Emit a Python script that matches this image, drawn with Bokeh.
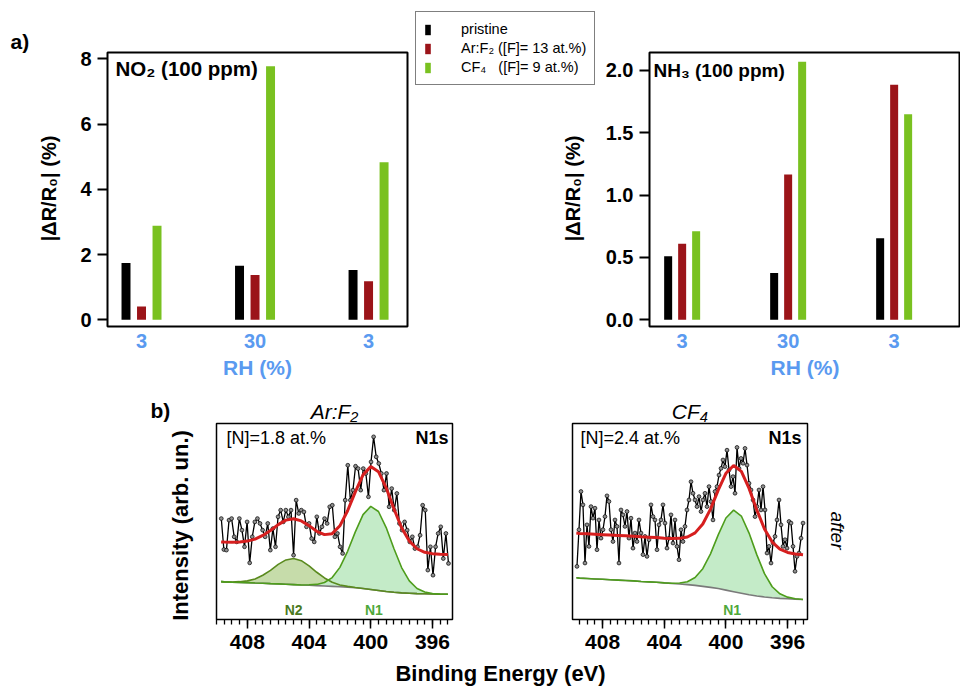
import math
import numpy as np
from bokeh.plotting import figure
from bokeh.models import (Range1d, FixedTicker, Label, Legend, LegendItem,
                          SingleIntervalTicker, PrintfTickFormatter)
from bokeh.layouts import column, row
from bokeh.embed import file_html
from bokeh.resources import INLINE

FONT = "Liberation Sans"
BLUE = "#5a9af0"
C_PRI = "#000000"
C_ARF = "#9b1419"
C_CF4 = "#79c120"

# ---------------- data: gas response bars ----------------
rh_labels = ["3", "30", "3"]
groups = [0, 1, 2]
no2_pristine = [1.74, 1.66, 1.53]
no2_arf2 = [0.41, 1.37, 1.18]
no2_cf4 = [2.88, 7.77, 4.83]
nh3_pristine = [0.51, 0.375, 0.655]
nh3_arf2 = [0.61, 1.165, 1.885]
nh3_cf4 = [0.71, 2.07, 1.65]
legend_labels = ["pristine", "Ar:F\u2082 ([F]= 13 at.%)", "CF\u2084   ([F]= 9 at.%)"]

# ---------------- data: XPS N1s (after) ----------------
arf2_counts = [51.5, 35.7, 35.4, 50.7, 51.5, 42.2, 39.6, 51.5, 45.6, 37.1,
               49.8, 28.9, 42.2, 49.8, 51.5, 49.0, 45.6, 42.2, 49.0, 35.4,
               46.4, 37.1, 52.4, 55.8, 49.8, 55.8, 52.4, 55.8, 32.8, 60.9,
               54.1, 55.8, 54.9, 47.3, 49.0, 41.3, 39.6, 52.4, 43.9, 47.3,
               51.5, 49.0, 57.5, 58.3, 42.2, 43.9, 37.1, 33.7, 60.9, 78.7,
               60.9, 66.0, 78.2, 77.0, 66.0, 77.0, 74.5, 62.6, 80.4, 93.2,
               83.0, 79.6, 74.5, 66.0, 74.5, 57.5, 66.8, 55.8, 64.3, 49.0,
               45.6, 49.8, 45.6, 39.6, 42.2, 36.2, 37.1, 43.0, 58.3, 55.8,
               25.2, 37.1, 22.6, 37.1, 43.9, 47.3, 31.1, 43.9, 28.6]
arf2_ev_start, arf2_ev_end = 409.69, 394.96

cf4_counts = [27.1, 45.8, 65.3, 58.5, 28.8, 48.3, 37.3, 57.6, 51.7, 56.8,
              35.6, 50.8, 41.5, 45.8, 52.5, 63.1, 60.2, 45.8, 39.8, 50.8,
              47.5, 28.8, 55.9, 53.4, 47.5, 55.1, 41.5, 51.7, 36.4, 44.1,
              39.8, 50.8, 44.1, 33.1, 42.4, 32.2, 40.7, 58.5, 52.5, 50.8,
              35.6, 48.3, 50.8, 58.5, 49.2, 36.4, 41.5, 53.4, 39.0, 50.8,
              37.3, 30.5, 45.8, 39.8, 47.5, 55.9, 61.0, 70.3, 64.4, 61.0,
              57.6, 62.7, 55.1, 61.0, 64.4, 57.6, 67.8, 60.2, 50.8, 65.3,
              67.8, 73.7, 77.1, 81.4, 78.0, 86.4, 76.3, 67.8, 72.9, 64.4,
              87.8, 77.1, 82.2, 79.7, 87.3, 78.8, 69.5, 66.1, 61.0, 52.5,
              57.6, 66.1, 55.9, 67.8, 55.9, 33.9, 37.3, 28.8, 39.0, 42.4,
              50.8, 61.0, 48.3, 37.3, 40.7, 36.4, 50.0, 49.2, 37.3, 24.6,
              32.2, 33.9, 41.5, 49.2]
cf4_ev_start, cf4_ev_end = 409.66, 395.0

fit_ev = [409.7, 409.5, 409.0, 408.5, 408.0, 407.5, 407.0, 406.5, 406.0, 405.5,
          405.0, 404.5, 404.0, 403.5, 403.0, 402.5, 402.0, 401.5, 401.0, 400.5,
          400.0, 399.5, 399.0, 398.5, 398.0, 397.5, 397.0, 396.5, 396.0, 395.5, 395.0]

arf2_bg = [19.3, 19.2, 19.0, 18.9, 18.8, 18.6, 18.5, 18.3, 18.2, 18.0,
           17.8, 17.6, 17.5, 17.3, 17.1, 16.9, 16.7, 16.5, 16.2, 15.8,
           15.3, 14.8, 14.3, 13.9, 13.6, 13.4, 13.2, 13.1, 13.0, 12.9, 12.9]
arf2_n2 = [19.3, 19.2, 19.1, 19.3, 19.7, 20.7, 22.6, 25.1, 28.1, 30.4,
           31.1, 30.0, 27.4, 24.1, 21.2, 19.0, 17.6, 16.9, 16.3, 15.8,
           15.3, 14.8, 14.3, 13.9, 13.6, 13.4, 13.2, 13.1, 13.0, 12.9, 12.9]
arf2_n1 = [19.3, 19.2, 19.0, 18.9, 18.8, 18.6, 18.5, 18.3, 18.2, 18.0,
           17.8, 17.6, 17.7, 17.9, 18.9, 21.4, 26.6, 34.8, 44.7, 53.5,
           57.7, 55.1, 46.9, 36.2, 26.5, 19.7, 15.8, 14.0, 13.3, 13.0, 12.9]
arf2_fit = [39.6, 39.5, 39.4, 39.6, 40.0, 41.0, 42.9, 45.4, 48.4, 50.7,
            51.4, 50.3, 47.9, 45.0, 43.3, 43.8, 47.8, 55.5, 65.1, 73.8,
            78.0, 75.4, 67.2, 56.5, 46.8, 40.0, 36.1, 34.3, 33.6, 33.3, 33.2]

cf4_bg = [21.3, 21.1, 20.9, 20.7, 20.5, 20.3, 20.1, 19.9, 19.7, 19.4,
          19.2, 19.0, 18.7, 18.4, 18.1, 17.8, 17.4, 16.9, 16.4, 15.8,
          15.0, 14.2, 13.4, 12.6, 12.0, 11.5, 11.1, 10.8, 10.6, 10.4, 10.2]
cf4_n1 = [21.3, 21.1, 20.9, 20.7, 20.5, 20.3, 20.1, 19.9, 19.7, 19.4,
          19.2, 19.0, 18.7, 18.5, 18.6, 19.3, 21.4, 25.9, 33.5, 43.2,
          51.8, 55.8, 52.8, 44.1, 33.1, 23.4, 16.7, 13.1, 11.4, 10.6, 10.2]
cf4_fit = [44.1, 43.9, 43.7, 43.5, 43.3, 43.1, 42.9, 42.7, 42.5, 42.2,
           42.0, 41.8, 41.5, 41.3, 41.4, 42.1, 44.2, 48.7, 56.3, 66.0,
           74.6, 78.6, 75.6, 66.9, 55.9, 46.2, 39.5, 35.9, 34.2, 33.4, 33.0]

xps_tick_interval = 4

TOP_H = 384
BOT_H = 275
TXT_H = 28


def lbl(p, text, x, y, size, bold=False, italic=False, color="black",
        align="left", baseline="middle", angle=0.0, units="screen"):
    style = "normal"
    if bold:
        style = "bold"
    elif italic:
        style = "italic"
    p.add_layout(Label(x=x, y=y, x_units=units, y_units=units, text=text,
                       text_font=FONT, text_font_size=size, text_font_style=style,
                       text_color=color, text_align=align, text_baseline=baseline,
                       angle=angle))


def blank(width, height):
    p = figure(width=width, height=height, x_range=Range1d(0, 1), y_range=Range1d(0, 1),
               output_backend="svg", toolbar_location=None, x_axis_type=None, y_axis_type=None,
               min_border_left=0, min_border_right=0, min_border_top=0, min_border_bottom=0)
    try:
        p.frame_align = False
    except Exception:
        pass
    p.xgrid.visible = False
    p.ygrid.visible = False
    p.outline_line_color = None
    return p


def style_bar(p, yticks, fmt):
    p.xgrid.visible = False
    p.ygrid.visible = False
    p.outline_line_color = "black"
    p.outline_line_width = 2
    ya = p.yaxis[0]
    ya.ticker = FixedTicker(ticks=yticks)
    if fmt:
        ya.formatter = PrintfTickFormatter(format=fmt)
    ya.axis_line_color = None
    ya.major_tick_out = 10
    ya.major_tick_in = 0
    ya.major_tick_line_width = 2
    ya.minor_tick_line_color = None
    ya.major_label_text_font = FONT
    ya.major_label_text_font_size = "20px"
    ya.major_label_text_font_style = "bold"
    ya.major_label_text_color = "black"
    ya.major_label_standoff = 6
    xa = p.xaxis[0]
    xa.ticker = FixedTicker(ticks=groups)
    xa.major_label_overrides = {g: t for g, t in zip(groups, rh_labels)}
    xa.axis_line_color = None
    xa.major_tick_line_color = None
    xa.major_tick_out = 0
    xa.major_tick_in = 0
    xa.minor_tick_line_color = None
    xa.major_label_text_font = FONT
    xa.major_label_text_font_size = "20px"
    xa.major_label_text_font_style = "bold"
    xa.major_label_text_color = BLUE
    xa.major_label_standoff = 7
    xa.axis_label = "RH (%)"
    xa.axis_label_text_font = FONT
    xa.axis_label_text_font_size = "21px"
    xa.axis_label_text_font_style = "bold"
    xa.axis_label_text_color = BLUE
    xa.axis_label_standoff = 5


def bars(p, vals_list, off, w):
    rs = []
    for k, (vals, col) in enumerate(zip(vals_list, [C_PRI, C_ARF, C_CF4])):
        xs = [g + (k - 1) * off for g in groups]
        rs.append(p.vbar(x=xs, top=vals, bottom=0, width=w, fill_color=col, line_color=None))
    return rs


YLAB = "|\u0394R/R\u2080| (%)"

# ---------------- row a ----------------
la = blank(70, TOP_H)
lbl(la, "a)", 10, TOP_H - 41, "21px", bold=True)
lbl(la, YLAB, 48, TOP_H - 188, "20px", bold=True, align="center", angle=math.pi / 2)

pa = figure(width=340, height=TOP_H, x_range=Range1d(-0.2996, 2.343), y_range=Range1d(-0.205, 8.193),
            output_backend="svg", toolbar_location=None,
            min_border_left=37, min_border_right=3, min_border_top=52, min_border_bottom=58)
style_bar(pa, [0, 2, 4, 6, 8], None)
bars(pa, [no2_pristine, no2_arf2, no2_cf4], 0.1366, 0.079)
lbl(pa, "NO\u2082 (100 ppm)", 8, 258, "20.5px", bold=True)

# legend panel (legend swatches come from hidden copies of the NH3 bars)
lb = blank(186, TOP_H)
leg_r = []
for vals, c in zip([nh3_pristine, nh3_arf2, nh3_cf4], [C_PRI, C_ARF, C_CF4]):
    r = lb.vbar(x=groups, top=vals, width=0.1, fill_color=c, line_color=None)
    r.visible = False
    leg_r.append(r)
leg = Legend(items=[LegendItem(label=t, renderers=[r]) for t, r in zip(legend_labels, leg_r)],
             location=(5, TOP_H - 85), orientation="vertical",
             border_line_color="black", border_line_width=1.5,
             background_fill_color="white", background_fill_alpha=1.0,
             inactive_fill_alpha=0.0,
             label_text_font=FONT, label_text_font_size="14.5px", label_text_color="black",
             glyph_width=7, glyph_height=13, label_standoff=30, label_height=18,
             spacing=1, padding=8, margin=0)
lb.add_layout(leg)
lbl(lb, YLAB, 162, TOP_H - 188, "20px", bold=True, align="center", angle=math.pi / 2)

pb = figure(width=364, height=TOP_H, x_range=Range1d(-0.308, 2.626), y_range=Range1d(-0.0538, 2.1444),
            output_backend="svg", toolbar_location=None,
            min_border_left=53, min_border_right=0, min_border_top=52, min_border_bottom=58)
style_bar(pb, [0, 0.5, 1.0, 1.5, 2.0], "%.1f")
bars(pb, [nh3_pristine, nh3_arf2, nh3_cf4], 0.132, 0.0755)
lbl(pb, "NH\u2083 (100 ppm)", 4, 256, "19px", bold=True)


# ---------------- row b, XPS ----------------
def xps_fig(width, left, right, xr_start, xr_end, title):
    p = figure(width=width, height=BOT_H, x_range=Range1d(xr_start, xr_end), y_range=Range1d(0, 100),
               output_backend="svg", toolbar_location=None, y_axis_type=None,
               min_border_left=left, min_border_right=right, min_border_top=39, min_border_bottom=40)
    p.title.text = title
    p.title.align = "center"
    p.title.text_font = FONT
    p.title.text_font_size = "21px"
    p.title.text_font_style = "italic"
    p.title.text_color = "black"
    p.title.standoff = 1
    p.xgrid.visible = False
    p.ygrid.visible = False
    p.outline_line_color = "black"
    p.outline_line_width = 1.5
    xa = p.xaxis[0]
    xa.ticker = SingleIntervalTicker(interval=xps_tick_interval, num_minor_ticks=8)
    xa.axis_line_color = None
    xa.major_tick_out = 9
    xa.major_tick_in = 0
    xa.minor_tick_out = 5
    xa.minor_tick_in = 0
    xa.major_tick_line_width = 1.5
    xa.minor_tick_line_width = 1.3
    xa.major_label_text_font = FONT
    xa.major_label_text_font_size = "21px"
    xa.major_label_text_font_style = "bold"
    xa.major_label_text_color = "black"
    xa.major_label_standoff = 6
    return p


def draw_xps(p, counts, ev_start, ev_end, bg, comps, fit):
    ev = np.linspace(ev_start, ev_end, len(counts))
    for yc, fill, edge in comps:
        p.varea(x=fit_ev, y1=bg, y2=yc, fill_color=fill, fill_alpha=1.0)
    p.line(fit_ev, bg, line_color="#7a7a7a", line_width=1.6)
    for yc, fill, edge in comps:
        p.line(fit_ev, yc, line_color=edge, line_width=1.6)
    p.line(ev, counts, line_color="black", line_width=1.3)
    p.scatter(ev, counts, size=3.8, fill_color="#8f8f8f", line_color="black", line_width=0.7)
    p.line(fit_ev, fit, line_color="#d61f1f", line_width=3)


lf = blank(200, BOT_H)
lbl(lf, "b)", 150, BOT_H - 26, "21px", bold=True)
lbl(lf, "Intensity (arb. un.)", 180, BOT_H - 141, "22px", bold=True, align="center", angle=math.pi / 2)

p1 = xps_fig(310, 16, 58, 410.0, 394.70, "Ar:F\u2082")
draw_xps(p1, arf2_counts, arf2_ev_start, arf2_ev_end, arf2_bg,
         [(arf2_n2, "#c6dcaa", "#5a8a1e"), (arf2_n1, "#c4ebc8", "#4e9d1c")], arf2_fit)
lbl(p1, "N2", 405.0, 5.1, "14px", bold=True, color="#4a7a1e", align="center", units="data")
lbl(p1, "N1", 399.8, 5.1, "14px", bold=True, color="#4fa83a", align="center", units="data")
lbl(p1, "[N]=1.8 at.%", 10, 182, "18px")
lbl(p1, "N1s", 232, 182, "18px", bold=True, align="right")

p2 = xps_fig(305, 62, 8, 409.95, 394.71, "CF\u2084")
draw_xps(p2, cf4_counts, cf4_ev_start, cf4_ev_end, cf4_bg,
         [(cf4_n1, "#c4ebc8", "#4e9d1c")], cf4_fit)
lbl(p2, "N1", 399.6, 4.6, "14px", bold=True, color="#4fa83a", align="center", units="data")
lbl(p2, "[N]=2.4 at.%", 8, 182, "18px")
lbl(p2, "N1s", 229, 182, "18px", bold=True, align="right")

rf = blank(145, BOT_H)
lbl(rf, "after", 22, BOT_H - 146, "19px", italic=True, align="center", angle=-math.pi / 2)

# ---------------- shared x label row ----------------
pt = blank(960, TXT_H)
lbl(pt, "Binding Energy (eV)", 500, 14, "22px", bold=True, align="center", baseline="middle")

layout = column(row(la, pa, lb, pb), row(lf, p1, p2, rf), pt)
open("out.html", "w").write(file_html(layout, INLINE))
